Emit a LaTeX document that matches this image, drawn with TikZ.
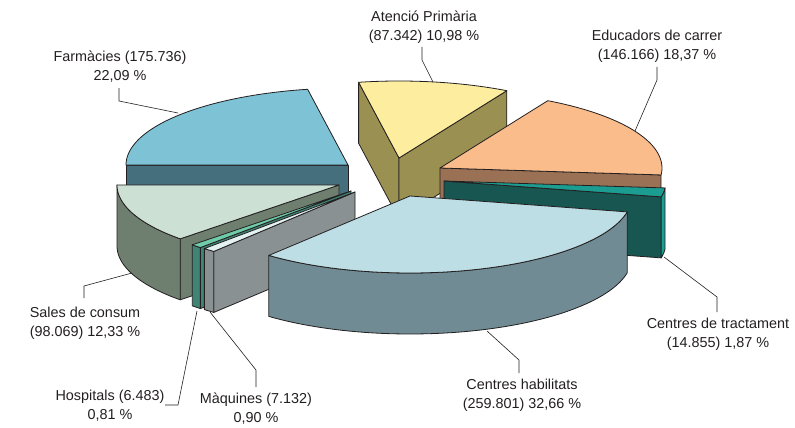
\documentclass[tikz,border=0pt]{standalone}
\usepackage{fontspec}
\setmainfont{Liberation Sans}
\definecolor{linec}{HTML}{231F20}
\definecolor{textc}{HTML}{231F20}
\definecolor{fTop}{HTML}{7DC2D5}\definecolor{fSide}{HTML}{456F7D}
\definecolor{aTop}{HTML}{FCEE9E}\definecolor{aSide}{HTML}{9A9052}
\definecolor{eTop}{HTML}{FBBC8B}\definecolor{eSide}{HTML}{9B7156}
\definecolor{tTop}{HTML}{1B9E91}\definecolor{tSide}{HTML}{175651}
\definecolor{hTop}{HTML}{BDDEE4}\definecolor{hSide}{HTML}{708B94}
\definecolor{mTop}{HTML}{E4F1F1}\definecolor{mSide}{HTML}{8A9192}
\definecolor{oTop}{HTML}{6FCCA9}\definecolor{oSide}{HTML}{3F8474}
\definecolor{sTop}{HTML}{CCE1D3}\definecolor{sSide}{HTML}{6E7F70}
\def\pdep{61}
\def\prx{222}
\def\pry{77}
% top face: apex x, apex y, start, end, colour
\newcommand\pietop[5]{\path[edge, fill=#5] (#1,#2) -- plot[domain=#3:#4,samples=60] ({#1+\prx*cos(\x)},{#2+\pry*sin(\x)}) -- cycle;}
% radial face: apex x, apex y, angle, colour
\newcommand\pierad[4]{\path[edge, fill=#4] (#1,#2) -- ({#1+\prx*cos(#3)},{#2+\pry*sin(#3)}) -- ({#1+\prx*cos(#3)},{#2+\pry*sin(#3)+\pdep}) -- (#1,{#2+\pdep}) -- cycle;}
% outer curved face: apex x, apex y, start, end, colour
\newcommand\piearc[5]{\path[edge, fill=#5] plot[domain=#3:#4,samples=60] ({#1+\prx*cos(\x)},{#2+\pry*sin(\x)}) -- plot[domain=#4:#3,samples=60] ({#1+\prx*cos(\x)},{#2+\pry*sin(\x)+\pdep}) -- cycle;}
\tikzset{
  edge/.style={draw=linec, line width=0.8pt, line join=round},
  lab/.style={font=\fontsize{14.4}{19}\selectfont, text=textc, align=center, inner sep=0pt},
  leader/.style={draw=linec, line width=0.6pt},
}
\begin{document}
\begin{tikzpicture}[x=1pt,y=-1pt]
\useasboundingbox (0,0) rectangle (795,428);
% Farmacies
\pierad{348}{165}{180}{fSide}
\pietop{348}{165}{180}{259.52}{fTop}
% Atencio Primaria
\pierad{399}{158}{259.52}{aSide}
\pierad{399}{158}{299.05}{aSide}
\pietop{399}{158}{259.52}{299.05}{aTop}
% Educadors de carrer
\pierad{440}{168}{365.18}{eSide}
\pietop{440}{168}{299.05}{365.18}{eTop}
% Sales de consum
\pierad{339}{185}{135.65}{sSide}
\piearc{339}{185}{135.65}{180}{sSide}
\pietop{339}{185}{135.65}{180}{sTop}
% Hospitals
\pierad{351}{191}{132.73}{oSide}
\piearc{351}{191}{132.73}{135.65}{oSide}
\pietop{351}{191}{132.73}{135.65}{oTop}
% Maquines
\pierad{355}{192}{129.49}{mSide}
\piearc{355}{192}{129.49}{132.73}{mSide}
\pietop{355}{192}{129.49}{132.73}{mTop}
% Centres de tractament
\pierad{444}{181}{11.91}{tSide}
\piearc{444}{181}{5.18}{11.91}{tTop}
\pietop{444}{181}{5.18}{11.91}{tTop}
% Centres habilitats
\piearc{410}{196}{11.91}{129.49}{hSide}
\pietop{410}{196}{11.91}{129.49}{hTop}

% labels
\node[lab] (labF) at (120,67) {Farmàcies (175.736)\\22,09 \%};
\node[lab] (labA) at (424,27) {Atenció Primària\\(87.342) 10,98 \%};
\node[lab] (labE) at (657,46.5) {Educadors de carrer\\(146.166) 18,37 \%};
\node[lab] (labT) at (718,334) {Centres de tractament\\(14.855) 1,87 \%};
\node[lab] (labH) at (522,395.5) {Centres habilitats\\(259.801) 32,66 \%};
\node[lab] (labS) at (85,323.5) {Sales de consum\\(98.069) 12,33 \%};
\node[lab] (labO) at (110,406) {Hospitals (6.483)\\0,81 \%};
\node[lab] (labM) at (256,408.5) {Màquines (7.132)\\0,90 \%};

% leader points
\coordinate (fS) at (119,88);  \coordinate (fB) at (119,101); \coordinate (fE) at (178,113);
\coordinate (aS) at (422,47);  \coordinate (aB) at (422,60);  \coordinate (aE) at (433,82);
\coordinate (eS) at (657,67);  \coordinate (eB) at (657,80);  \coordinate (eE) at (635,131);
\coordinate (tS) at (717,312); \coordinate (tB) at (717,297); \coordinate (tE) at (664,257);
\coordinate (hS) at (519,373); \coordinate (hB) at (519,360); \coordinate (hE) at (487,331);
\coordinate (sS) at (84,298);  \coordinate (sB) at (84,286);  \coordinate (sE) at (132,273);
\coordinate (oS) at (165,405); \coordinate (oB) at (178,405); \coordinate (oE) at (197,311);
\coordinate (mS) at (256,387); \coordinate (mB) at (256,370); \coordinate (mE) at (210,312);
\draw[leader] (fS) -- (fB) -- (fE);
\draw[leader] (aS) -- (aB) -- (aE);
\draw[leader] (eS) -- (eB) -- (eE);
\draw[leader] (tS) -- (tB) -- (tE);
\draw[leader] (hS) -- (hB) -- (hE);
\draw[leader] (sS) -- (sB) -- (sE);
\draw[leader] (oS) -- (oB) -- (oE);
\draw[leader] (mS) -- (mB) -- (mE);
\end{tikzpicture}
\end{document}
